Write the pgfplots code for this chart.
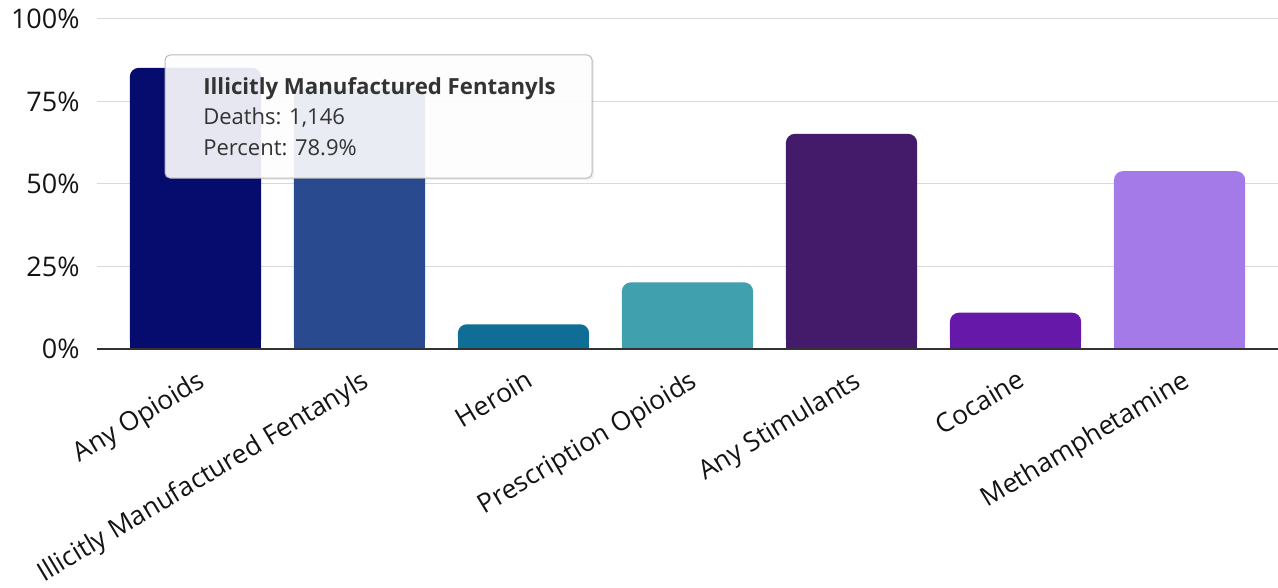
\documentclass[border=0pt]{standalone}
\usepackage{pgfplots}
\pgfplotsset{compat=1.18}
\usepackage{fontspec}
\setmainfont{Open Sans}
\definecolor{cA}{RGB}{5,12,110}
\definecolor{cB}{RGB}{42,74,143}
\definecolor{cC}{RGB}{14,110,150}
\definecolor{cD}{RGB}{65,160,174}
\definecolor{cE}{RGB}{68,26,107}
\definecolor{cF}{RGB}{102,25,168}
\definecolor{cG}{RGB}{163,122,232}
\definecolor{gridc}{RGB}{217,217,217}
\definecolor{axisc}{RGB}{51,51,51}
\definecolor{textc}{RGB}{20,20,20}
\definecolor{tipc}{RGB}{51,51,51}
\definecolor{tipborder}{RGB}{185,185,185}
\pgfplotsset{
  mybar/.style={ybar, bar width=0.8, bar shift=0pt, draw=none, fill=#1, rounded corners=4.5pt},
  mypatch/.style={ybar, bar width=0.8, bar shift=0pt, draw=none, fill=#1, sharp corners},
}
\begin{document}
\begin{tikzpicture}
\begin{axis}[
  at={(0,0)}, anchor=south west,
  width=590.5pt, height=165pt, scale only axis,
  xmin=-0.6, xmax=6.6, ymin=0, ymax=100,
  clip=false,
  axis line style={draw=none},
  major tick length=0pt,
  xtick={0,1,2,3,4,5,6},
  xticklabels={Any Opioids, Illicitly Manufactured Fentanyls, Heroin, Prescription Opioids, Any Stimulants, Cocaine, Methamphetamine},
  xticklabel style={rotate=31, anchor=north east, inner sep=0pt, xshift=-4.5pt, yshift=-8.5pt, font=\fontsize{13.2}{16}\selectfont, text=textc},
  ytick={0,25,50,75,100},
  yticklabels={0\%,25\%,50\%,75\%,100\%},
  yticklabel style={anchor=east, inner sep=0pt, xshift=-8.5pt, font=\fontsize{13.5}{16}\selectfont, text=textc},
  ymajorgrids, grid style={draw=gridc, line width=0.5pt},
]
\addplot[mybar=cA] coordinates {(0,85.2)};
\addplot[mybar=cB] coordinates {(1,78.9)};
\addplot[mybar=cC] coordinates {(2,7.5)};
\addplot[mybar=cD] coordinates {(3,20.2)};
\addplot[mybar=cE] coordinates {(4,65.2)};
\addplot[mybar=cF] coordinates {(5,11.0)};
\addplot[mybar=cG] coordinates {(6,53.9)};
% square off the bottom corners
\addplot[mypatch=cA] coordinates {(0,3)};
\addplot[mypatch=cB] coordinates {(1,3)};
\addplot[mypatch=cC] coordinates {(2,3)};
\addplot[mypatch=cD] coordinates {(3,3)};
\addplot[mypatch=cE] coordinates {(4,3)};
\addplot[mypatch=cF] coordinates {(5,3)};
\addplot[mypatch=cG] coordinates {(6,3)};
\draw[axisc, line width=0.75pt] (rel axis cs:0,0) -- (rel axis cs:1,0);
% tooltip
\fill[black, opacity=0.06, rounded corners=2.5pt] (axis cs:-0.175,51.2) rectangle (axis cs:2.43,88.6);
\draw[draw=tipborder, line width=0.5pt, fill=white, fill opacity=0.9, rounded corners=2.5pt] (axis cs:-0.185,51.8) rectangle (axis cs:2.418,89.1);
\node[anchor=base west, inner sep=0pt, font=\fontsize{11.1}{14}\selectfont\bfseries, text=tipc] at (axis cs:0.046,77.0) {Illicitly Manufactured Fentanyls};
\node[anchor=base west, inner sep=0pt, font=\fontsize{11}{14}\selectfont, text=tipc] at (axis cs:0.046,67.9) {Deaths: 1,146};
\node[anchor=base west, inner sep=0pt, font=\fontsize{11}{14}\selectfont, text=tipc] at (axis cs:0.046,58.5) {Percent: 78.9\%};
\end{axis}
\pgfresetboundingbox
\path[use as bounding box] (-48.5pt,-119.5pt) rectangle (590.5pt,174.5pt);
\end{tikzpicture}
\end{document}
